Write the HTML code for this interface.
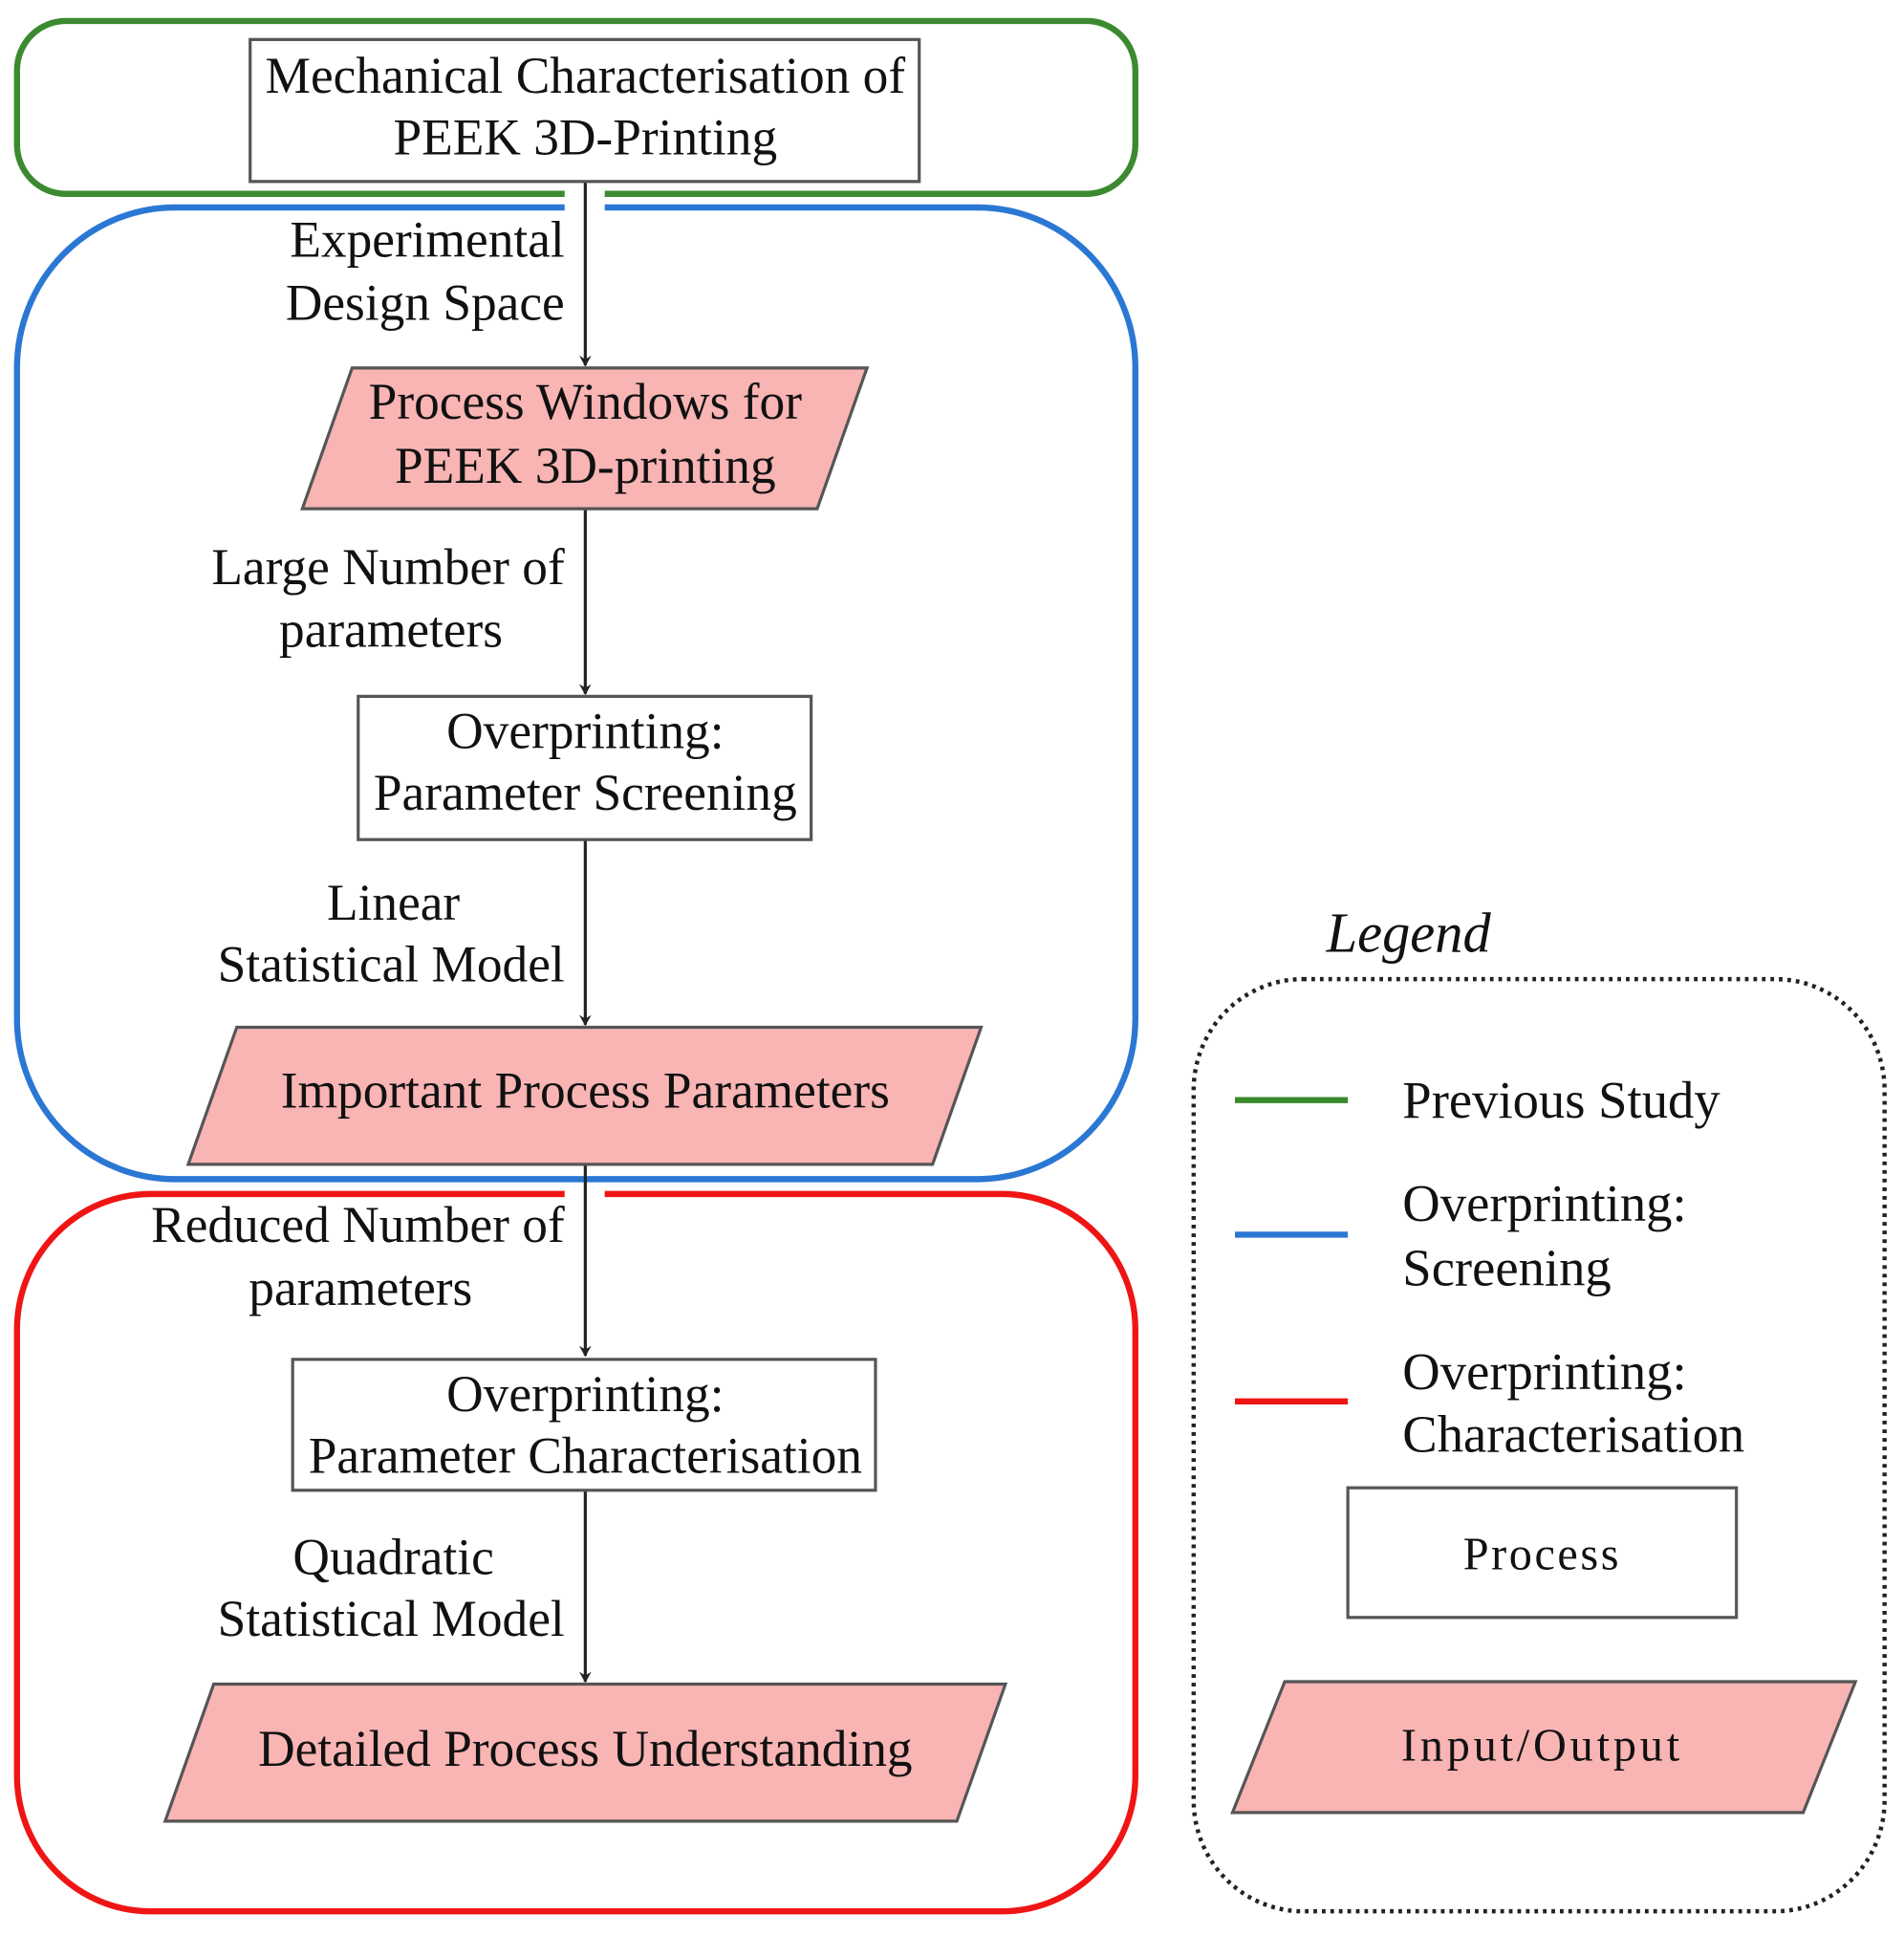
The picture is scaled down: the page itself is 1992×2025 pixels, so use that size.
<!DOCTYPE html>
<html><head><meta charset="utf-8"><style>
html,body{margin:0;padding:0;background:#fff;}
svg{display:block;}
text{font-family:"Liberation Serif",serif;fill:#111;}
</style></head><body>
<svg width="1992" height="2025" viewBox="0 0 1568 1568" preserveAspectRatio="none" xmlns="http://www.w3.org/2000/svg">
<defs><marker id="ah" markerWidth="10" markerHeight="10" refX="8" refY="5" orient="auto" markerUnits="userSpaceOnUse"><path d="M0,0 L9,5 L0,10 L3,5 z" fill="#222"/></marker></defs>
<path d="M465,157 H54 A40,40 0 0 1 14,117 V57 A40,40 0 0 1 54,17 H895 A40,40 0 0 1 935,57 V117 A40,40 0 0 1 895,157 H498" fill="none" stroke="#3b8a2f" stroke-width="5"/>
<path d="M465,168 H144 A130,130 0 0 0 14,298 V825 A130,130 0 0 0 144,955 H805 A130,130 0 0 0 935,825 V298 A130,130 0 0 0 805,168 H498" fill="none" stroke="#2b77d4" stroke-width="5"/>
<path d="M465,967 H124 A110,110 0 0 0 14,1077 V1438 A110,110 0 0 0 124,1548 H825 A110,110 0 0 0 935,1438 V1077 A110,110 0 0 0 825,967 H498" fill="none" stroke="#f01515" stroke-width="5"/>
<g stroke="#222" stroke-width="2.5" marker-end="url(#ah)">
<line x1="482" y1="147" x2="482" y2="296"/>
<line x1="482" y1="412" x2="482" y2="562"/>
<line x1="482" y1="680" x2="482" y2="830"/>
<line x1="482" y1="943" x2="482" y2="1098"/>
<line x1="482" y1="1207" x2="482" y2="1362"/>
</g>
<g stroke="#555" stroke-width="2.5">
<rect x="206" y="32" width="551" height="115" fill="#fff"/>
<polygon points="290,298 714,298 673,412 249,412" fill="#f9b4b4"/>
<rect x="295" y="564" width="373" height="116" fill="#fff"/>
<polygon points="195,832 808,832 768,943 155,943" fill="#f9b4b4"/>
<rect x="241" y="1101" width="480" height="106" fill="#fff"/>
<polygon points="176,1364 828,1364 788,1475 136,1475" fill="#f9b4b4"/>
</g>
<g font-size="42" text-anchor="middle">
<text x="482" y="75">Mechanical Characterisation of</text>
<text x="482" y="125">PEEK 3D-Printing</text>
<text x="482" y="339">Process Windows for</text>
<text x="482" y="391">PEEK 3D-printing</text>
<text x="482" y="606">Overprinting:</text>
<text x="482" y="656">Parameter Screening</text>
<text x="482" y="897">Important Process Parameters</text>
<text x="482" y="1143">Overprinting:</text>
<text x="482" y="1193">Parameter Characterisation</text>
<text x="482" y="1430">Detailed Process Understanding</text>
</g>
<g font-size="42" text-anchor="end">
<text x="465" y="208">Experimental</text>
<text x="465" y="259">Design Space</text>
<text x="465" y="473">Large Number of</text>
<text x="465" y="795">Statistical Model</text>
<text x="465" y="1006">Reduced Number of</text>
<text x="465" y="1325">Statistical Model</text>
</g>
<g font-size="42" text-anchor="middle">
<text x="322" y="524">parameters</text>
<text x="324" y="745">Linear</text>
<text x="297" y="1057">parameters</text>
<text x="324" y="1275">Quadratic</text>
</g>
<text x="1160" y="771" font-size="46" font-style="italic" text-anchor="middle">Legend</text>
<rect x="983" y="793" width="569" height="755" rx="90" ry="90" fill="none" stroke="#222" stroke-width="3.5" stroke-dasharray="3,4"/>
<line x1="1017" y1="891" x2="1110" y2="891" stroke="#3b8a2f" stroke-width="5"/>
<line x1="1017" y1="1000" x2="1110" y2="1000" stroke="#2b77d4" stroke-width="5"/>
<line x1="1017" y1="1135" x2="1110" y2="1135" stroke="#f01515" stroke-width="5"/>
<g font-size="43">
<text x="1155" y="905">Previous Study</text>
<text x="1155" y="989">Overprinting:</text>
<text x="1155" y="1041">Screening</text>
<text x="1155" y="1125">Overprinting:</text>
<text x="1155" y="1176">Characterisation</text>
</g>
<rect x="1110" y="1205" width="320" height="105" fill="#fff" stroke="#555" stroke-width="2.5"/>
<text x="1270" y="1271" font-size="38" letter-spacing="2" text-anchor="middle">Process</text>
<polygon points="1058,1362 1528,1362 1485,1468 1015,1468" fill="#f9b4b4" stroke="#555" stroke-width="2.5"/>
<text x="1270" y="1426" font-size="38" letter-spacing="3" text-anchor="middle">Input/Output</text>
</svg>
</body></html>
